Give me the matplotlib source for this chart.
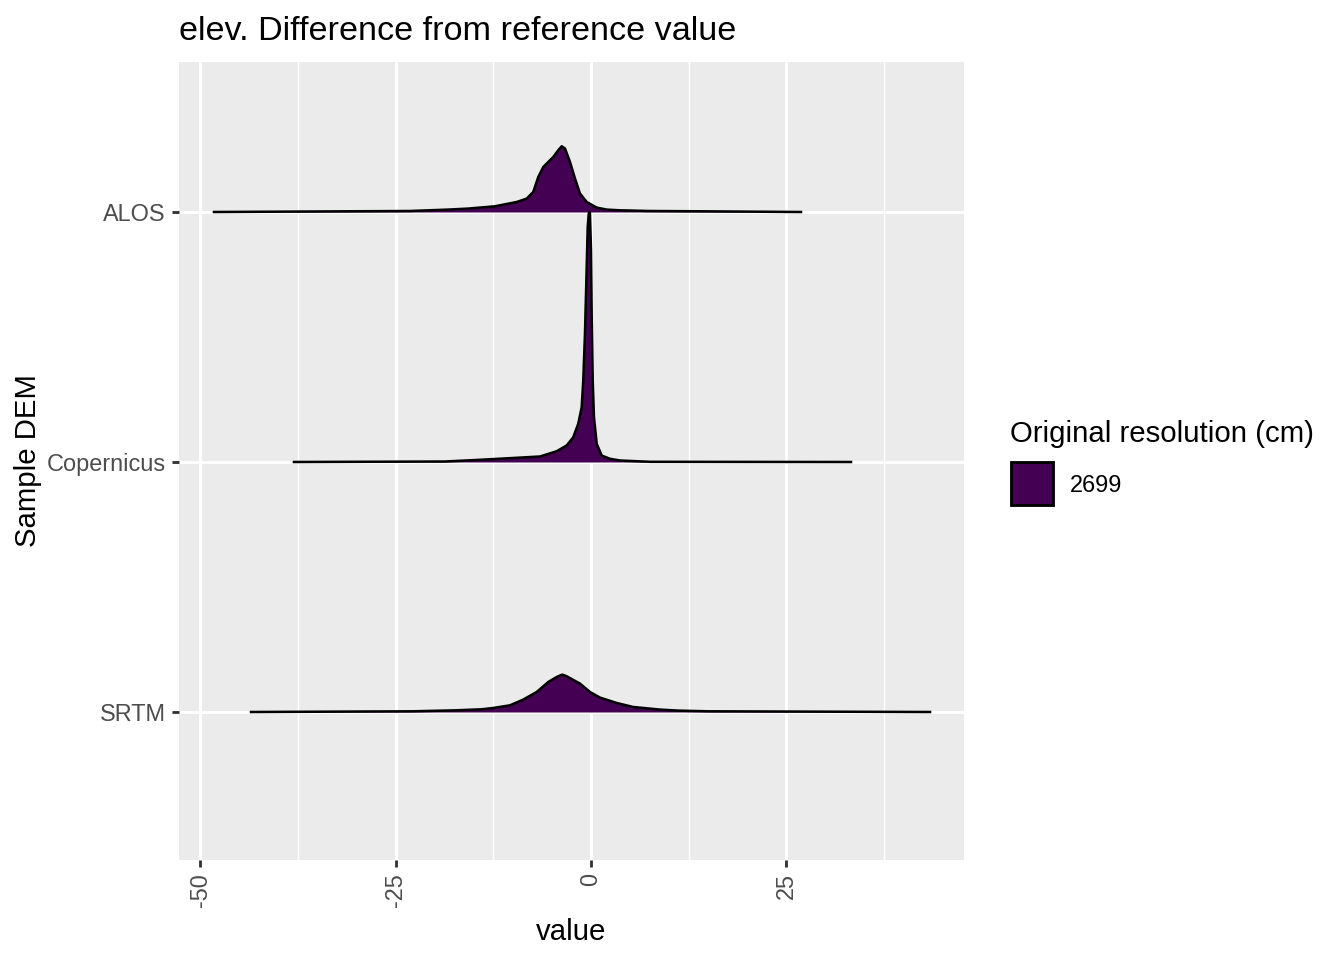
import matplotlib
matplotlib.use("Agg")
import matplotlib.pyplot as plt
from matplotlib.patches import Rectangle
import numpy as np

plt.rcParams['font.family'] = ['Liberation Sans', 'DejaVu Sans']

# ---- data ----
categories = ["SRTM", "Copernicus", "ALOS"]
legend_label = "2699"
fill_color = "#440154"

alos_x = [-48.27, -23.18, -18.31, -15.75, -12.29, -9.51, -8.23, -7.39, -6.75, -6.11,
          -5.47, -4.83, -4.19, -3.75, -3.33, -2.69, -2.05, -1.41, -0.55, 0.73,
          2.01, 3.71, 7.55, 13.96, 26.89]
alos_h = [0.0, 0.004, 0.0096, 0.0136, 0.0228, 0.040, 0.0536, 0.080, 0.140, 0.180,
          0.200, 0.220, 0.247, 0.263, 0.254, 0.200, 0.134, 0.074, 0.040, 0.0176,
          0.0096, 0.0068, 0.004, 0.0028, 0.0]

cop_x = [-38.03, -18.69, -14.21, -9.51, -6.53, -4.39, -3.11, -2.27, -1.63, -1.19,
         -0.99, -0.77, -0.55, -0.42, -0.29, -0.20, -0.13, 0.0, 0.09, 0.22,
         0.38, 0.73, 1.37, 2.43, 3.71, 7.55, 33.29]
cop_h = [0.0, 0.002, 0.0088, 0.0168, 0.022, 0.043, 0.066, 0.099, 0.153, 0.219,
         0.326, 0.513, 0.779, 0.939, 0.993, 1.0, 0.993, 0.846, 0.579, 0.326,
         0.179, 0.073, 0.026, 0.0128, 0.006, 0.0008, 0.0]

srtm_x = [-43.53, -22.75, -17.2, -13.99, -12.51, -10.37, -8.67, -6.95, -5.47, -4.39,
          -3.67, -3.11, -1.41, -0.13, 1.15, 3.29, 5.42, 8.83, 11.18, 15.02, 43.41]
srtm_h = [0.0, 0.0028, 0.0068, 0.0108, 0.016, 0.0268, 0.0496, 0.080, 0.120, 0.140,
          0.1496, 0.1428, 0.1136, 0.080, 0.0576, 0.036, 0.020, 0.0096, 0.0056, 0.0028, 0.0]

x_ticks = [-50, -25, 0, 25]
x_minor = [-37.5, -12.5, 12.5, 37.5]

ridges = {"ALOS": (alos_x, alos_h), "Copernicus": (cop_x, cop_h), "SRTM": (srtm_x, srtm_h)}

# ---- figure ----
fig = plt.figure(figsize=(7, 5), dpi=192)
W, H = 1344, 960
ax = fig.add_axes([179 / W, 1 - 860 / H, (964 - 179) / W, (860 - 62) / H])
ax.set_facecolor("#EBEBEB")
for s in ax.spines.values():
    s.set_visible(False)

ax.set_xlim(-52.75, 47.76)
ax.set_ylim(0.408, 3.6)

lw_major = 1.07
for v in x_minor:
    ax.axvline(v, color="white", lw=lw_major / 2, zorder=0)
for v in x_ticks:
    ax.axvline(v, color="white", lw=lw_major, zorder=0)
for i in range(len(categories)):
    ax.axhline(i + 1, color="white", lw=lw_major, zorder=0)

# draw top ridge first so lower ones overlap
for name in ["ALOS", "Copernicus", "SRTM"]:
    base = categories.index(name) + 1
    xs, hs = ridges[name]
    xs = np.asarray(xs)
    ys = base + np.asarray(hs)
    ax.fill_between(xs, base, ys, color=fill_color, lw=0, zorder=2)
    ax.plot(xs, ys, color="black", lw=0.95, zorder=3, solid_joinstyle="round")

ax.set_xticks(x_ticks)
ax.set_xticklabels([str(t) for t in x_ticks], rotation=90, fontsize=8.8, color="#4D4D4D")
ax.set_yticks([1, 2, 3])
ax.set_yticklabels(categories, fontsize=8.8, color="#4D4D4D")
ax.tick_params(axis="both", length=2.75, width=lw_major, color="#333333", pad=2.2)
ax.tick_params(axis="x", which="minor", length=0)

ax.set_xlabel("value", fontsize=11, color="black", labelpad=4)
ax.set_ylabel("Sample DEM", fontsize=11, color="black", labelpad=1.8)

fig.text(179 / W, 1 - 31 / H, "elev. Difference from reference value", fontsize=12.8,
         ha="left", va="center", color="black")

# legend (manual)
fig.text(1010 / W, 1 - 434 / H, "Original resolution (cm)", fontsize=11,
         ha="left", va="center", color="black")
fig.patches.append(Rectangle((1011 / W, 1 - 505 / H), 42 / W, 43 / H,
                             transform=fig.transFigure, facecolor=fill_color,
                             edgecolor="black", lw=lw_major))
fig.text(1070 / W, 1 - 485 / H, legend_label, fontsize=8.8, ha="left", va="center",
         color="black")

fig.savefig("out.png", dpi=192)
